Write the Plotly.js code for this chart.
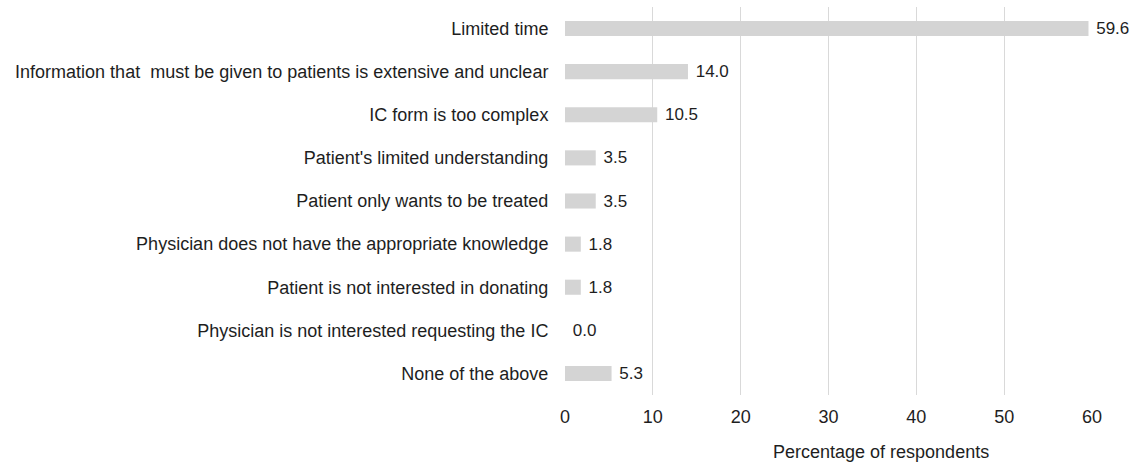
<!DOCTYPE html>
<html>
<head>
<meta charset="utf-8">
<script src="https://cdn.plot.ly/plotly-3.0.1.min.js"></script>
<style>html,body{margin:0;padding:0;background:#fff;}#chart{width:1135px;height:464px;}</style>
</head>
<body>
<div id="chart"></div>
<script>
const categories = [
  "Limited time",
  "Information that\u00a0 must be given to patients is extensive and unclear",
  "IC form is too complex",
  "Patient's limited understanding",
  "Patient only wants to be treated",
  "Physician does not have the appropriate knowledge",
  "Patient is not interested in donating",
  "Physician is not interested requesting the IC",
  "None of the above"
];
const values = [59.6, 14.0, 10.5, 3.5, 3.5, 1.8, 1.8, 0.0, 5.3];
const xTickValues = [0, 10, 20, 30, 40, 50, 60];
const xTitle = "Percentage of respondents";

const trace = {
  type: "bar",
  orientation: "h",
  y: categories,
  x: values,
  marker: {color: "#d4d4d4", line: {width: 0}},
  text: values.map(v => "\u00a0" + v.toFixed(1)),
  textposition: "outside",
  cliponaxis: false,
  constraintext: "none",
  textfont: {family: "Liberation Sans, Arial, sans-serif", size: 17, color: "#1e1e1e"},
  hoverinfo: "none"
};

const layout = {
  width: 1135,
  height: 464,
  margin: {l: 565, r: 43, t: 7, b: 69},
  paper_bgcolor: "#fff",
  plot_bgcolor: "#fff",
  bargap: 0.65,
  showlegend: false,
  font: {family: "Liberation Sans, Arial, sans-serif", size: 18, color: "#1e1e1e"},
  xaxis: {
    range: [0, 60],
    tickvals: xTickValues,
    ticktext: xTickValues.map(String),
    showgrid: true,
    gridcolor: "#d9d9d9",
    gridwidth: 1,
    zeroline: false,
    showline: false,
    ticks: "outside",
    ticklen: 5,
    tickcolor: "rgba(0,0,0,0)",
    tickfont: {size: 18, color: "#1e1e1e"},
    fixedrange: true
  },
  yaxis: {
    autorange: "reversed",
    showgrid: false,
    zeroline: false,
    showline: false,
    ticks: "outside",
    ticklen: 12,
    tickcolor: "rgba(0,0,0,0)",
    tickfont: {size: 18, color: "#1e1e1e"},
    fixedrange: true
  },
  annotations: [{
    text: xTitle,
    xref: "paper", yref: "paper",
    x: 0.6, y: -0.147,
    xanchor: "center", yanchor: "middle",
    showarrow: false,
    font: {size: 18, color: "#1e1e1e"}
  }]
};

Plotly.newPlot("chart", [trace], layout, {displayModeBar: false, staticPlot: true});
</script>
</body>
</html>
